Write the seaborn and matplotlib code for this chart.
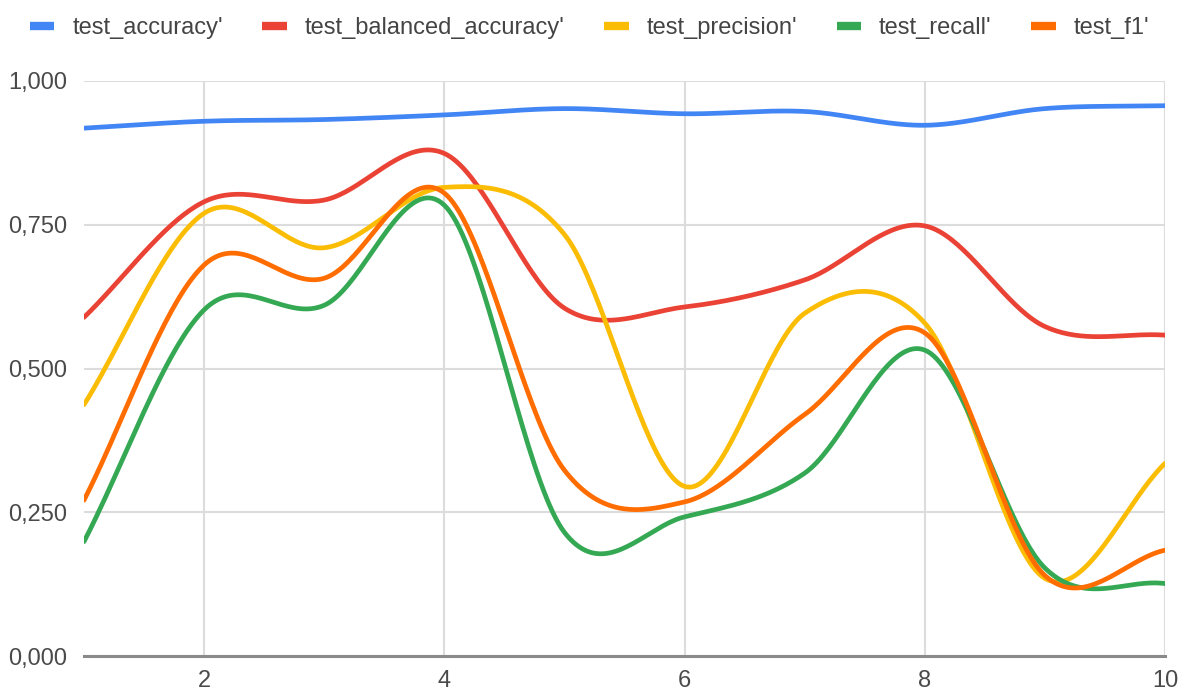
import numpy as np
import pandas as pd
import matplotlib
matplotlib.use("Agg")
import matplotlib.pyplot as plt
import seaborn as sns
from matplotlib.ticker import FuncFormatter, MultipleLocator, FixedLocator

# Scores per run
runs = [1, 2, 3, 4, 5, 6, 7, 8, 9, 10]
test_accuracy = [0.918, 0.930, 0.933, 0.941, 0.952, 0.943, 0.947, 0.923, 0.952, 0.957]
test_balanced_accuracy = [0.589, 0.790, 0.793, 0.874, 0.605, 0.607, 0.654, 0.748, 0.573, 0.558]
test_precision = [0.437, 0.770, 0.710, 0.815, 0.733, 0.295, 0.596, 0.579, 0.135, 0.335]
test_recall = [0.199, 0.602, 0.610, 0.784, 0.215, 0.242, 0.318, 0.532, 0.153, 0.126]
test_f1 = [0.271, 0.680, 0.657, 0.805, 0.323, 0.268, 0.420, 0.562, 0.140, 0.184]

series_names = ["test_accuracy'", "test_balanced_accuracy'", "test_precision'",
                "test_recall'", "test_f1'"]
series_values = [test_accuracy, test_balanced_accuracy, test_precision, test_recall, test_f1]
series_colors = ["#4285F4", "#EA4335", "#FBBC04", "#34A853", "#FF6D01"]


def smooth_curve(xs, ys, steps=40):
    """Catmull-Rom spline through the points, evaluated as cubic Bezier segments."""
    xs = np.asarray(xs, float)
    ys = np.asarray(ys, float)
    px = np.concatenate([[2 * xs[0] - xs[1]], xs, [2 * xs[-1] - xs[-2]]])
    py = np.concatenate([[2 * ys[0] - ys[1]], ys, [2 * ys[-1] - ys[-2]]])
    t = np.linspace(0, 1, steps, endpoint=False)[:, None]
    out_x, out_y = [], []
    for i in range(1, len(px) - 2):
        p0 = np.array([px[i], py[i]])
        p3 = np.array([px[i + 1], py[i + 1]])
        c1 = p0 + (np.array([px[i + 1], py[i + 1]]) - np.array([px[i - 1], py[i - 1]])) / 6
        c2 = p3 - (np.array([px[i + 2], py[i + 2]]) - np.array([px[i], py[i]])) / 6
        pts = ((1 - t) ** 3) * p0 + 3 * ((1 - t) ** 2) * t * c1 + 3 * (1 - t) * t ** 2 * c2 + t ** 3 * p3
        out_x.append(pts[:, 0])
        out_y.append(pts[:, 1])
    out_x.append([xs[-1]])
    out_y.append([ys[-1]])
    return np.concatenate(out_x), np.concatenate(out_y)


frames = []
for name, vals in zip(series_names, series_values):
    cx, cy = smooth_curve(runs, vals)
    frames.append(pd.DataFrame({"run": cx, "score": cy, "metric": name}))
df = pd.concat(frames, ignore_index=True)

sns.set_style("white")
plt.rcParams["font.family"] = ["Liberation Sans", "DejaVu Sans"]

fig = plt.figure(figsize=(11.79, 6.93), dpi=100)
ax = fig.add_axes([84 / 1179, 1 - 656 / 693, (1165 - 84) / 1179, (656 - 81) / 693])

sns.lineplot(data=df, x="run", y="score", hue="metric", hue_order=series_names,
             palette=dict(zip(series_names, series_colors)), sort=False,
             estimator=None, linewidth=3.4, ax=ax, zorder=3)

ax.set_xlim(1, 10)
ax.set_ylim(0, 1)
ax.xaxis.set_major_locator(FixedLocator([2, 4, 6, 8, 10]))
ax.yaxis.set_major_locator(MultipleLocator(0.25))
ax.yaxis.set_major_formatter(FuncFormatter(lambda v, _: f"{v:.3f}".replace(".", ",")))
ax.grid(True, color="#dcdcdc", linewidth=1.5, zorder=0)
ax.set_axisbelow(True)
for side in ["top", "left", "right"]:
    ax.spines[side].set_visible(False)
ax.spines["bottom"].set_color("#8a8a8a")
ax.spines["bottom"].set_linewidth(2.2)
ax.tick_params(axis="both", length=0, labelsize=17, labelcolor="#4a4a4a")
ax.tick_params(axis="y", pad=12)
ax.tick_params(axis="x", pad=10)
ax.set_xlabel("")
ax.set_ylabel("")

handles, labels = ax.get_legend_handles_labels()
leg = ax.legend(handles, labels, loc="center", bbox_to_anchor=(0.5, 1 - 28 / 693),
                bbox_transform=fig.transFigure, ncol=5, frameon=False, fontsize=17,
                handlelength=1.05, handletextpad=0.75, columnspacing=1.67)
for line in leg.get_lines():
    line.set_linewidth(6)
    line.set_solid_capstyle("butt")
for text in leg.get_texts():
    text.set_color("#444444")

fig.savefig("out.png", dpi=100)
